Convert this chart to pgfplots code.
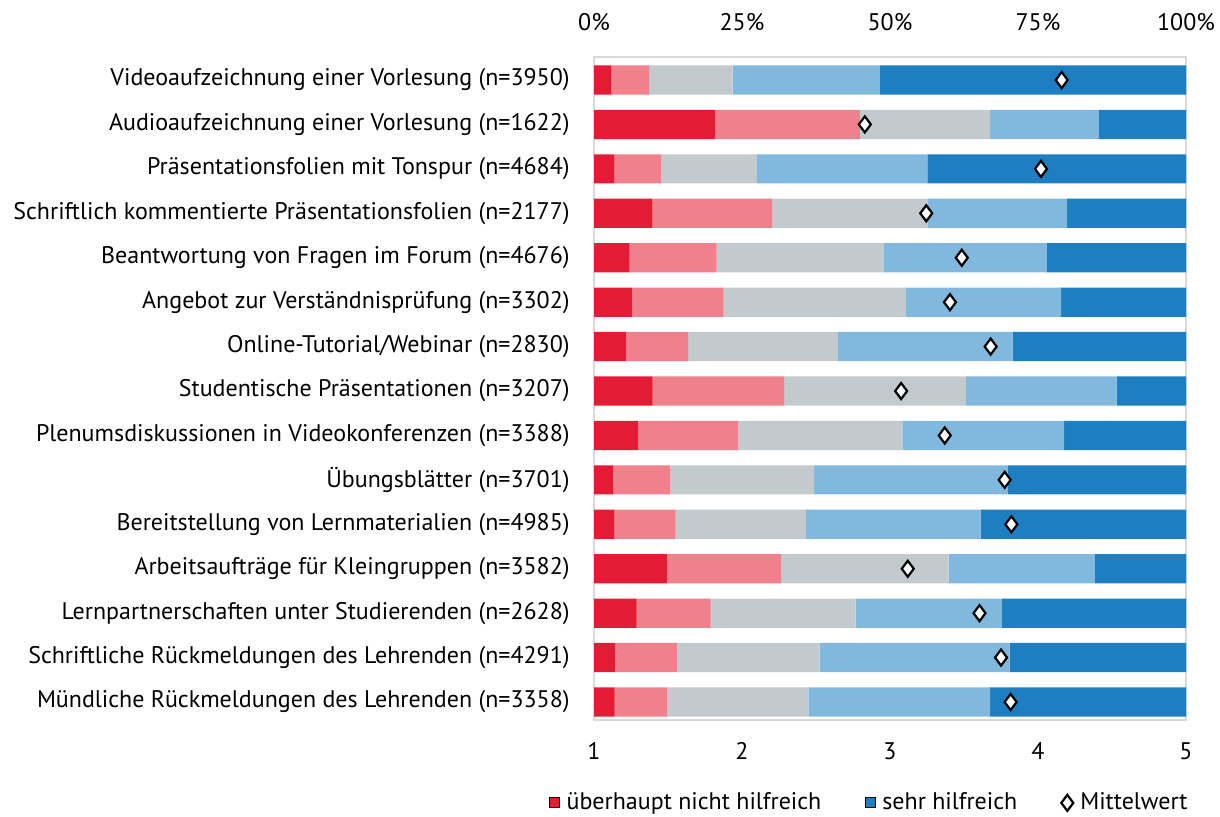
\documentclass[border=0pt]{standalone}
\usepackage{fontspec}
\setmainfont{PT Sans}
\usepackage{pgfplots}
\pgfplotsset{compat=1.18}
\usepackage{pgfplotstable}

\definecolor{c1}{HTML}{E41B34}
\definecolor{c2}{HTML}{F0808C}
\definecolor{c3}{HTML}{C3CACD}
\definecolor{c4}{HTML}{81B8DE}
\definecolor{c5}{HTML}{1E7EC2}
\definecolor{frame}{HTML}{D9D9D9}

\pgfplotstableread{
y a b c d e m
1 2.9 6.4 14.1 24.9 51.7 4.16
2 20.5 24.4 22.0 18.4 14.7 2.83
3 3.4 8.0 16.1 28.8 43.7 4.02
4 9.8 20.3 26.3 23.5 20.1 3.245
5 6.0 14.7 28.2 27.6 23.5 3.485
6 6.5 15.4 30.7 26.3 21.1 3.405
7 5.4 10.5 25.2 29.6 29.3 3.68
8 9.9 22.2 30.7 25.5 11.7 3.075
9 7.4 17.0 27.7 27.3 20.6 3.37
10 3.2 9.7 24.3 32.7 30.1 3.775
11 3.4 10.4 21.9 29.6 34.7 3.82
12 12.4 19.2 28.3 24.7 15.4 3.12
13 7.2 12.5 24.5 24.7 31.1 3.605
14 3.6 10.4 24.1 32.1 29.8 3.75
15 3.5 8.8 23.9 30.7 33.1 3.815
}\data

\newcommand{\lblfont}{\fontsize{12pt}{14pt}\selectfont}

\begin{document}
\lblfont
\begin{tikzpicture}
\useasboundingbox (0,0) rectangle (610pt,408pt);
\begin{axis}[
  at={(297pt,48pt)}, anchor=south west,
  scale only axis, width=296pt, height=331.5pt,
  xbar stacked, bar width=14.6pt,
  xmin=0, xmax=100, ymin=0.482, ymax=15.405, y dir=reverse,
  ytick={1,...,15},
  yticklabels={
    Videoaufzeichnung einer Vorlesung (n=3950),
    Audioaufzeichnung einer Vorlesung (n=1622),
    Präsentationsfolien mit Tonspur (n=4684),
    Schriftlich kommentierte Präsentationsfolien (n=2177),
    Beantwortung von Fragen im Forum (n=4676),
    Angebot zur Verständnisprüfung (n=3302),
    Online-Tutorial/Webinar (n=2830),
    Studentische Präsentationen (n=3207),
    Plenumsdiskussionen in Videokonferenzen (n=3388),
    Übungsblätter (n=3701),
    Bereitstellung von Lernmaterialien (n=4985),
    Arbeitsaufträge für Kleingruppen (n=3582),
    Lernpartnerschaften unter Studierenden (n=2628),
    Schriftliche Rückmeldungen des Lehrenden (n=4291),
    Mündliche Rückmeldungen des Lehrenden (n=3358)},
  xtick={0,25,50,75,100},
  xticklabels={0\%,25\%,50\%,75\%,100\%},
  xticklabel pos=upper,
  major tick length=0pt,
  axis line style={draw=frame, line width=0.8pt},
  tick label style={font=\lblfont, text=black},
  yticklabel style={xshift=-8pt},
  xticklabel style={yshift=9pt},
  /pgf/number format/assume math mode=true,
]
\addplot[fill=c1, draw=none] table[x=a, y=y]{\data};
\addplot[fill=c2, draw=none] table[x=b, y=y]{\data};
\addplot[fill=c3, draw=none] table[x=c, y=y]{\data};
\addplot[fill=c4, draw=none] table[x=d, y=y]{\data};
\addplot[fill=c5, draw=none] table[x=e, y=y]{\data};
\end{axis}
\begin{axis}[
  at={(297pt,48pt)}, anchor=south west,
  scale only axis, width=296pt, height=331.5pt,
  xmin=1, xmax=5, ymin=0.482, ymax=15.405, y dir=reverse,
  ytick=\empty,
  xtick={1,2,3,4,5},
  xticklabel pos=lower,
  major tick length=0pt,
  axis line style={draw=none},
  tick label style={font=\lblfont, text=black},
  xticklabel style={yshift=-7pt},
  /pgf/number format/assume math mode=true,
  legend columns=3,
  legend style={draw=none, fill=none, at={(1.01,-0.125)}, anchor=east,
    font=\lblfont, inner sep=0pt,
    /tikz/every odd column/.append style={column sep=1.5pt},
    /tikz/every even column/.append style={column sep=20pt}},
  legend cell align=left,
]
\addlegendimage{only marks, mark=square*, mark size=2.5pt, mark options={fill=c1, draw=none}}
\addlegendentry{überhaupt nicht hilfreich}
\addlegendimage{only marks, mark=square*, mark size=2.5pt, mark options={fill=c5, draw=none}}
\addlegendentry{sehr hilfreich}
\addplot[only marks, mark=diamond*, mark size=4pt,
  mark options={fill=white, draw=black, line width=1.1pt}] table[x=m, y=y]{\data};
\addlegendentry{Mittelwert}
\end{axis}
\end{tikzpicture}
\end{document}
